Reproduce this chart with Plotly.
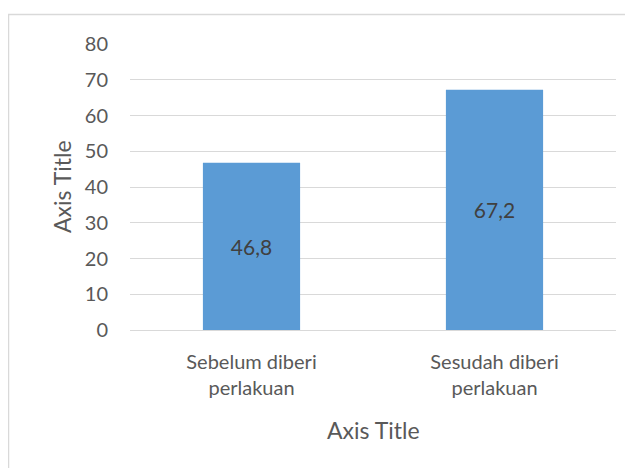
import plotly.graph_objects as go

categories = ["Sebelum diberi<br>perlakuan", "Sesudah diberi<br>perlakuan"]
values = [46.8, 67.2]
y_ticks = [0, 10, 20, 30, 40, 50, 60, 70, 80]

# page body has an 8px margin; lay out in window coordinates minus 8
OFF = 8
W, H = 633 - OFF, 468 - OFF
ml, mr, mt, mb = 130 - OFF, 17, 44 - OFF, 138
pw, ph = W - ml - mr, H - mt - mb

FONT = "Lato, Carlito, Calibri, sans-serif"
fig = go.Figure()
fig.add_trace(go.Bar(
    x=categories, y=values,
    marker=dict(color="#5B9BD5", line=dict(width=0)),
    texttemplate="%{y:.1f}", textposition="inside", insidetextanchor="middle",
    textfont=dict(family=FONT, size=21, color="#404040"),
    width=0.4, hoverinfo="skip",
))

def px_y(win_y):
    return (H - mb - (win_y - OFF)) / ph

def px_x(win_x):
    return ((win_x - OFF) - ml) / pw

fig.update_layout(
    width=W, height=H,
    margin=dict(l=ml, r=mr, t=mt, b=mb),
    paper_bgcolor="white", plot_bgcolor="white",
    separators=",.",
    showlegend=False,
    font=dict(family=FONT, size=20, color="#595959"),
    xaxis=dict(showgrid=False, showline=False, ticks="", tickfont=dict(size=20, color="#595959"),
               ticklabelstandoff=18, automargin=False),
    yaxis=dict(range=[0, 80], tickvals=y_ticks, showgrid=True, gridcolor="#D9D9D9", gridwidth=1,
               zeroline=True, zerolinecolor="#D9D9D9", zerolinewidth=1, showline=False, ticks="",
               ticklabelstandoff=21, tickfont=dict(size=20, color="#595959"), automargin=False),
    annotations=[
        dict(text="Axis Title", xref="paper", yref="paper", x=0.5, y=px_y(430),
             showarrow=False, font=dict(size=23, color="#595959"), xanchor="center", yanchor="middle"),
        dict(text="Axis Title", xref="paper", yref="paper", x=px_x(62), y=0.5, textangle=-90,
             showarrow=False, font=dict(size=23, color="#595959"), xanchor="center", yanchor="middle"),
    ],
    shapes=[
        dict(type="rect", xref="paper", yref="paper",
             x0=px_x(8.5), x1=px_x(660),
             y0=px_y(500), y1=px_y(14.5),
             line=dict(color="#D9D9D9", width=1.5), fillcolor="rgba(0,0,0,0)", layer="below"),
    ],
)

fig.write_html("out.html")
